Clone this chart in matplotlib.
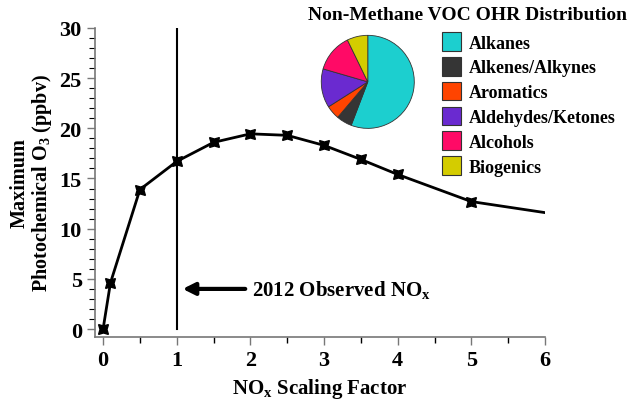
import matplotlib.pyplot as plt
from matplotlib.patches import Patch

plt.rcParams['font.family'] = ['Liberation Serif', 'DejaVu Serif']
plt.rcParams['font.weight'] = 'bold'
plt.rcParams['axes.labelweight'] = 'bold'
plt.rcParams['mathtext.fontset'] = 'custom'
plt.rcParams['mathtext.rm'] = 'Liberation Serif:bold'
plt.rcParams['mathtext.it'] = 'Liberation Serif:bold'
plt.rcParams['mathtext.bf'] = 'Liberation Serif:bold'

# Ozone response to NOx scaling
nox_factor = [0, 0.1, 0.5, 1, 1.5, 2, 2.5, 3, 3.5, 4, 5, 6]
max_o3 = [0.0, 4.6, 13.9, 16.7, 18.6, 19.45, 19.3, 18.3, 16.9, 15.4, 12.7, 11.6]
observed_nox = 1

# VOC OH reactivity split
voc_groups = ['Alkanes', 'Alkenes/Alkynes', 'Aromatics',
              'Aldehydes/Ketones', 'Alcohols', 'Biogenics']
voc_share = [55.8, 5.4, 4.8, 13.5, 13.3, 7.2]
voc_colors = ['#1ccfcf', '#353535', '#ff4400', '#6a2ad0', '#ff0a66', '#d4cc00']

fig = plt.figure(figsize=(6.29, 4.02), dpi=100)
ax = fig.add_axes([0.151, 0.159, 0.7155, 0.769])

ax.plot(nox_factor[:-1], max_o3[:-1], color='black', lw=2.0,
        marker=(4, 1, 45), ms=10, mfc='black', mec='black')
ax.plot(nox_factor[-2:], max_o3[-2:], color='black', lw=2.0)
ax.plot([observed_nox, observed_nox], [0, 30], color='black', lw=1.5)
ax.annotate('', xy=(1.08, 4.0), xytext=(1.93, 4.0),
            arrowprops=dict(arrowstyle='-|>', color='black', lw=3,
                            mutation_scale=18, shrinkA=0, shrinkB=0))
ax.text(2.02, 4.0, '2012 Observed NO$_\\mathregular{x}$', fontsize=15,
        va='center', ha='left')

ax.set_xlim(-0.11, 6)
ax.set_ylim(-0.8, 30)
ax.set_xticks(range(0, 7))
ax.set_xticks([0.5, 1.5, 2.5, 3.5, 4.5, 5.5], minor=True)
ax.set_yticks(range(0, 31, 5))
ax.set_yticks(range(0, 31), minor=True)
ax.tick_params(labelsize=16, color='#777777', direction='out')
ax.tick_params(axis='both', which='major', length=6, width=1)
ax.tick_params(axis='y', which='minor', length=4, width=0.8)
ax.tick_params(axis='x', which='minor', length=4, width=1)
for side in ['top', 'right']:
    ax.spines[side].set_visible(False)
for side in ['left', 'bottom']:
    ax.spines[side].set_color('#777777')
    ax.spines[side].set_linewidth(1.2)

ax.set_xlabel('NO$_\\mathregular{x}$ Scaling Factor', fontsize=15, labelpad=4)
ax.set_ylabel('Maximum\nPhotochemical O$_\\mathregular{3}$ (ppbv)',
              fontsize=14.5, labelpad=4, linespacing=1.0)

# inset pie
pax = fig.add_axes([0.510, 0.677, 0.1494, 0.2338])
pax.pie(voc_share, colors=voc_colors, startangle=90, counterclock=False,
        wedgeprops=dict(edgecolor='#333333', linewidth=0.6))
pax.set_xlim(-1.01, 1.01)
pax.set_ylim(-1.01, 1.01)
pax.set_aspect('equal')

fig.text(0.743, 0.962, 'Non-Methane VOC OHR Distribution', fontsize=14,
         ha='center', va='center')
handles = [Patch(facecolor=c, edgecolor='#333333', lw=0.8) for c in voc_colors]
fig.legend(handles, voc_groups, loc='upper left',
           bbox_to_anchor=(0.692, 0.935), frameon=False, fontsize=13,
           handlelength=1.0, handleheight=1.2, handletextpad=0.45,
           labelspacing=0.3, borderaxespad=0)

fig.savefig('out.png', dpi=100)
